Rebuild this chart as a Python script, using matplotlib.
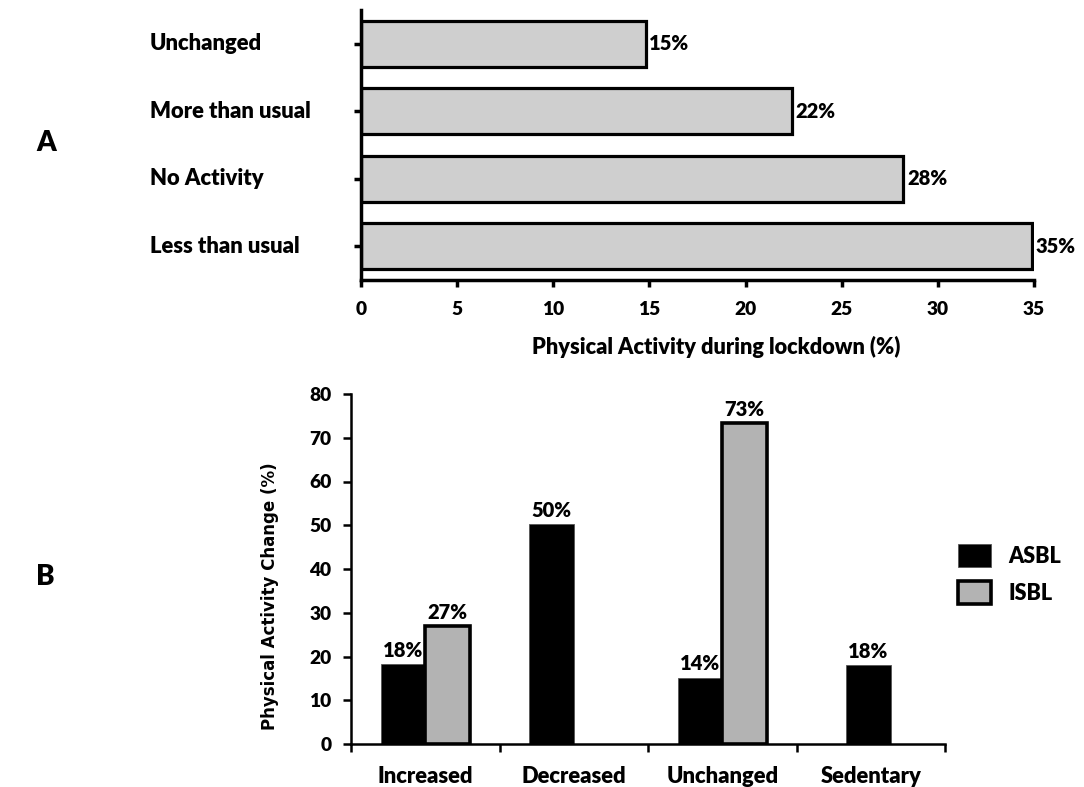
import matplotlib
matplotlib.use("Agg")
import matplotlib.pyplot as plt
from matplotlib.transforms import blended_transform_factory

# Panel A data (bottom to top)
activity_cats = ['Less than usual', 'No Activity', 'More than usual', 'Unchanged']
activity_vals = [34.9, 28.2, 22.4, 14.8]
activity_labels = ['35%', '28%', '22%', '15%']

# Panel B data
change_cats = ['Increased', 'Decreased', 'Unchanged', 'Sedentary']
asbl_vals = [18.3, 50.2, 15.2, 18.0]
isbl_vals = [27.0, 0, 73.3, 0]
asbl_labels = ['18%', '50%', '14%', '18%']
isbl_labels = ['27%', '', '73%', '']
asbl_offset = [-0.15, -0.15, -0.15, -0.015]
isbl_offset = [0.15, 0.15, 0.15, 0.15]

plt.rcParams['font.family'] = ['Lato', 'DejaVu Sans']
WT = 'heavy'
plt.rcParams['font.weight'] = WT

W, H = 1084, 787
fig = plt.figure(figsize=(W / 100, H / 100), dpi=100)

# ---------- panel A ----------
axA = fig.add_axes([361 / W, 1 - 280 / H, (1034 - 361) / W, (280 - 10) / H])
ypos = list(range(len(activity_cats)))
bars = axA.barh(ypos, activity_vals, height=0.68, color='#cfcfcf',
                edgecolor='black', linewidth=2.3)
for b, lab in zip(bars, activity_labels):
    axA.text(b.get_width() + 0.2, b.get_y() + b.get_height() / 2, lab,
             va='center', ha='left', fontsize=14.5, fontweight=WT)
axA.set_xlim(0, 35)
axA.set_ylim(-0.5, 3.5)
axA.set_xticks(range(0, 36, 5))
axA.set_yticks(ypos)
axA.set_yticklabels([])
trans = blended_transform_factory(fig.transFigure, axA.transData)
for y, name in zip(ypos, activity_cats):
    axA.text(150 / W, y, name, transform=trans, ha='left', va='center',
             fontsize=15.8, fontweight=WT)
for s in ['top', 'right']:
    axA.spines[s].set_visible(False)
for s in ['left', 'bottom']:
    axA.spines[s].set_linewidth(2.5)
axA.tick_params(axis='both', width=2.5, length=5, labelsize=13.8)
axA.tick_params(axis='x', pad=10)
fig.text(716 / W, 1 - 347 / H, 'Physical Activity during lockdown (%)',
         ha='center', va='center', fontsize=15.7, fontweight=WT)

# ---------- panel B ----------
axB = fig.add_axes([351 / W, 1 - 744 / H, (945 - 351) / W, 350 / H])
centers = [i + 0.5 for i in range(len(change_cats))]
xa = [c + o for c, o in zip(centers, asbl_offset)]
xi = [c + o for c, o in zip(centers, isbl_offset)]
b1 = axB.bar(xa, asbl_vals, width=0.3, color='black', edgecolor='#555555',
             linewidth=0.6, label='ASBL')
isbl_x = [x for x, v in zip(xi, isbl_vals) if v > 0]
isbl_v = [v for v in isbl_vals if v > 0]
b2 = axB.bar(isbl_x, isbl_v, width=0.3, color='#b3b3b3', edgecolor='black',
             linewidth=2.6, label='ISBL')
axB.bar_label(b1, labels=asbl_labels, padding=3, fontsize=14.5, fontweight=WT)
axB.bar_label(b2, labels=[l for l in isbl_labels if l], padding=3,
              fontsize=14.5, fontweight=WT)
axB.set_xlim(0, 4)
axB.set_ylim(0, 80)
axB.set_yticks(range(0, 81, 10))
axB.set_xticks(range(0, 5))
axB.set_xticklabels([])
axB.set_xticks(centers, minor=True)
axB.set_xticklabels(change_cats, minor=True)
axB.tick_params(axis='x', which='minor', length=0, pad=16, labelsize=15.8)
axB.tick_params(axis='x', which='major', length=6, width=1.8)
axB.tick_params(axis='y', length=6, width=1.8, labelsize=13.8, pad=8)
for s in ['top', 'right']:
    axB.spines[s].set_visible(False)
for s in ['left', 'bottom']:
    axB.spines[s].set_linewidth(1.8)
fig.text(270 / W, 1 - 596 / H, 'Physical Activity Change (%)', rotation=90,
         ha='center', va='center', fontsize=12, fontweight='bold',
         family='DejaVu Sans')

fig.legend(handles=[b1, b2], loc='upper left',
           bbox_to_anchor=(958 / W, 1 - 544 / H), frameon=False,
           handlelength=1.53, handleheight=1.26, labelspacing=0.65,
           handletextpad=0.8, borderpad=0, borderaxespad=0,
           prop={'size': 15.5, 'weight': WT})

fig.text(36 / W, 1 - 143 / H, 'A', ha='left', va='center', fontsize=20, fontweight=WT)
fig.text(36 / W, 1 - 577 / H, 'B', ha='left', va='center', fontsize=20, fontweight=WT)

fig.savefig('out.png', dpi=100)
